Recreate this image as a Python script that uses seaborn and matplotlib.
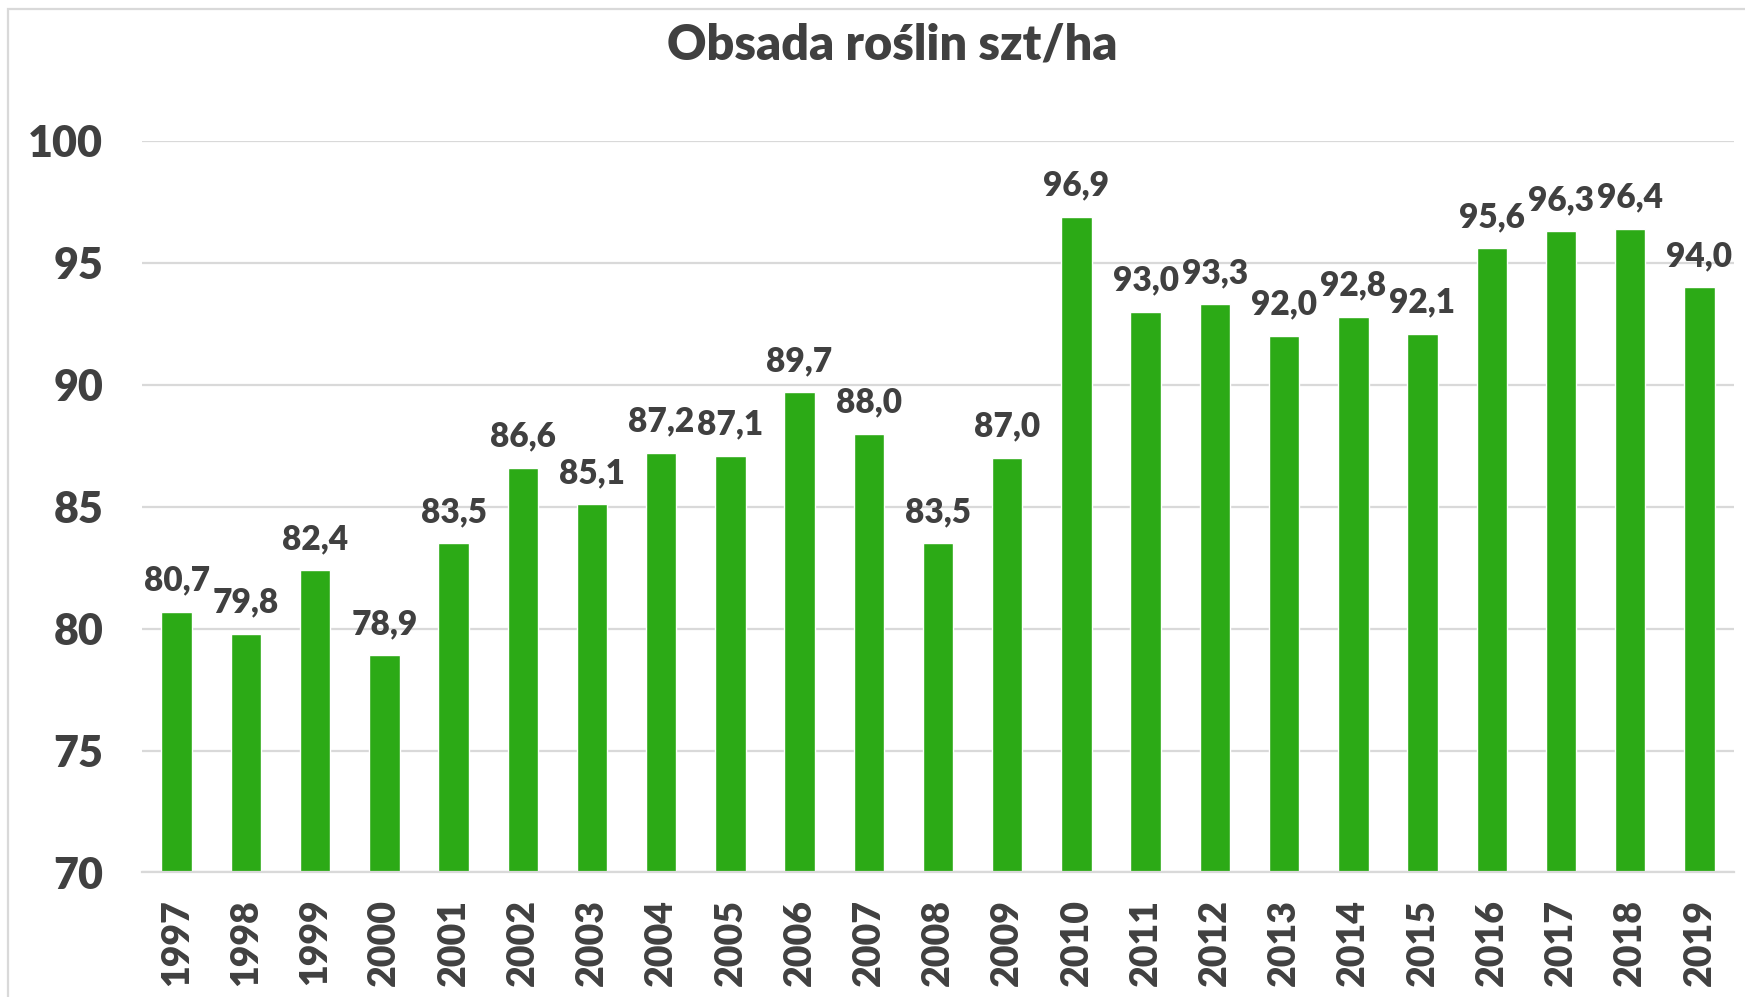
import pandas as pd
import matplotlib
matplotlib.use("Agg")
import matplotlib.pyplot as plt
import seaborn as sns
from matplotlib.patches import Rectangle

# data
years = [str(y) for y in range(1997, 2020)]
values = [80.7, 79.8, 82.4, 78.9, 83.5, 86.6, 85.1, 87.2, 87.1, 89.7, 88.0, 83.5,
          87.0, 96.9, 93.0, 93.3, 92.0, 92.8, 92.1, 95.6, 96.3, 96.4, 94.0]
title = "Obsada roślin szt/ha"

BAR = "#2caa16"
TXT = "#404040"
GRID = "#d9d9d9"

df = pd.DataFrame({"Rok": years, "Obsada": values})

sns.set_theme(style="white")
plt.rcParams["font.family"] = ["Lato", "DejaVu Sans"]

fig = plt.figure(figsize=(17.45, 9.97), dpi=100)
ax = fig.add_axes([0.0814, 0.1249, 0.9123, 0.7337])

sns.barplot(data=df, x="Rok", y="Obsada", color=BAR, width=0.44,
            saturation=1, ax=ax)

ax.set_ylim(70, 100)
ax.set_yticks(range(70, 101, 5))
ax.set_xlim(-0.5, len(years) - 0.5)
ax.yaxis.grid(True, color=GRID, linewidth=1.6)
ax.set_axisbelow(True)
for s in ["top", "right", "left"]:
    ax.spines[s].set_visible(False)
ax.spines["bottom"].set_color(GRID)
ax.spines["bottom"].set_linewidth(1.6)
ax.set_xlabel("")
ax.set_ylabel("")

ax.tick_params(axis="y", length=0, pad=28, labelsize=31, labelcolor=TXT)
ax.tick_params(axis="x", length=0, pad=19, labelsize=27, labelcolor=TXT,
               labelrotation=90)
for lab in ax.get_yticklabels() + ax.get_xticklabels():
    lab.set_fontweight("heavy")

labels = [f"{v:.1f}".replace(".", ",") for v in values]
texts = ax.bar_label(ax.containers[0], labels=labels, padding=11,
                     fontsize=24, fontweight="heavy", color=TXT)
for t in texts:
    t.set_clip_on(False)

fig.text(0.5115, 0.955, title, ha="center", va="center", fontsize=35,
         fontweight="heavy", color=TXT)

# chart-area border like the spreadsheet frame
fig.patches.append(Rectangle((0.0046, -0.05), 1.2, 1.0409, transform=fig.transFigure,
                             fill=False, edgecolor=GRID, linewidth=1.6))

fig.savefig("out.png", dpi=100)
